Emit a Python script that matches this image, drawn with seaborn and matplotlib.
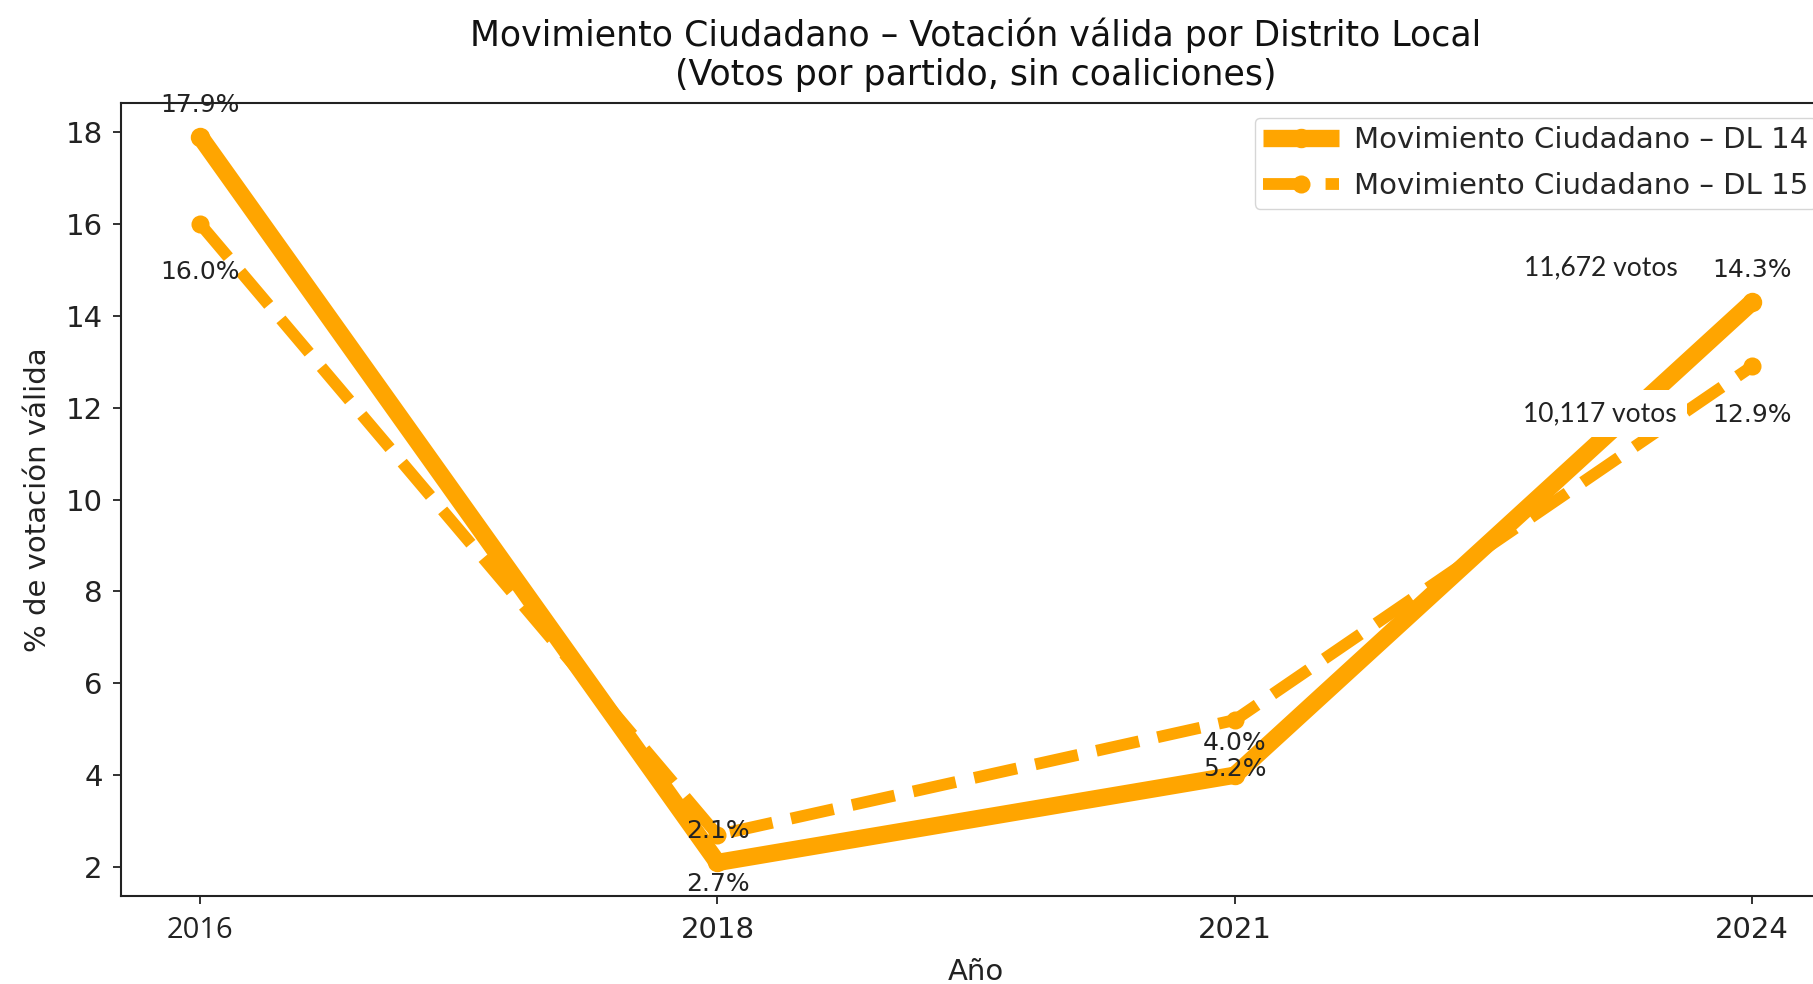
import numpy as np
import seaborn as sns
import matplotlib.pyplot as plt
import pandas as pd

sns.set_style("ticks")
plt.rcParams['font.family'] = ['DejaVu Sans']

anios = ["2016", "2018", "2021", "2024"]
dl14 = [17.9, 2.1, 4.0, 14.3]
dl15 = [16.0, 2.7, 5.2, 12.9]
votos_2024 = ["11,672 votos", "10,117 votos"]

df = pd.DataFrame({"Año": anios * 2,
                   "pct": dl14 + dl15,
                   "serie": ["Movimiento Ciudadano – DL 14"] * 4 + ["Movimiento Ciudadano – DL 15"] * 4})

fig = plt.figure(figsize=(18.13, 9.84), dpi=100)
ax = fig.add_axes([0.0667, 0.0894, 0.9434, 0.8059])

naranja = "#FFA500"
sns.lineplot(x="Año", y="pct", data=df[df["serie"].str.endswith("14")], ax=ax,
             color=naranja, linewidth=12.5, marker="o", markersize=14, markeredgewidth=0,
             solid_capstyle="butt", label="Movimiento Ciudadano – DL 14", sort=False)
sns.lineplot(x="Año", y="pct", data=df[df["serie"].str.endswith("15")], ax=ax,
             color=naranja, linewidth=8.5, linestyle="--", marker="o", markersize=13, markeredgewidth=0,
             dash_capstyle="butt", label="Movimiento Ciudadano – DL 15", sort=False)

# etiquetas de porcentaje
for i, v in enumerate(dl14):
    ax.annotate(f"{v:.1f}%", (i, v), xytext=(0, 23), textcoords="offset points",
                ha="center", va="center", fontsize=18, color="#222222")
for i, v in enumerate(dl15):
    ax.annotate(f"{v:.1f}%", (i, v), xytext=(0, -35), textcoords="offset points",
                ha="center", va="center", fontsize=18, color="#222222")

# votos 2024
ax.text(2.708, 15.05, votos_2024[0], ha="center", va="center", fontsize=19,
        family=["Lato", "DejaVu Sans"], color="#222222", zorder=5,
        bbox=dict(facecolor="white", edgecolor="none", pad=8))
ax.text(2.705, 11.87, votos_2024[1], ha="center", va="center", fontsize=19,
        family=["Lato", "DejaVu Sans"], color="#222222", zorder=5,
        bbox=dict(facecolor="white", edgecolor="none", pad=8))

ax.set_xlim(-0.153, 3.153)
ax.set_ylim(1.37, 18.63)
ax.set_yticks([2, 4, 6, 8, 10, 12, 14, 16, 18])
ax.tick_params(labelsize=21, length=6, width=1.3, colors="#222222")
ax.tick_params(axis="x", pad=8.5)
ax.tick_params(axis="y", pad=7)
ax.get_xticklabels()[0].set_family(["Open Sans", "DejaVu Sans"])
for s in ax.spines.values():
    s.set_linewidth(1.5)
    s.set_color("#222222")

ax.set_xlabel("Año", fontsize=21, color="#222222", labelpad=9)
ax.set_ylabel("% de votación válida", fontsize=21, color="#222222", labelpad=10)
ax.set_title("Movimiento Ciudadano – Votación válida por Distrito Local\n(Votos por partido, sin coaliciones)",
             fontsize=25, color="#111111", pad=13, linespacing=1.2)

ax.legend(loc="upper right", fontsize=21, handlelength=2.6, handletextpad=0.5,
          borderpad=0.3, labelspacing=0.6, frameon=True)

fig.savefig("out.png", dpi=100)
